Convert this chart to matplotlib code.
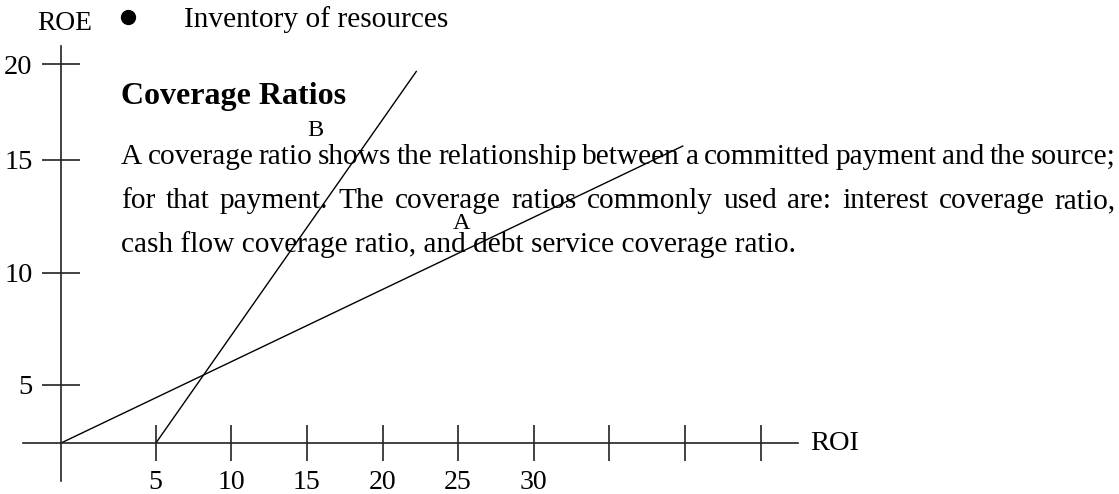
import matplotlib
matplotlib.use("Agg")
import matplotlib.pyplot as plt
from matplotlib.lines import Line2D

# ---- data ----
x_tick_values = [5, 10, 15, 20, 25, 30, 35, 40, 45]
x_tick_labels = ["5", "10", "15", "20", "25", "30", "", "", ""]
y_tick_labels = ["5", "10", "15", "20"]
line_a_roi = [-1.3, 39.9]
line_a_roe = [0.0, 15.7]
line_b_roi = [5.0, 22.26]
line_b_roe = [0.0, 19.65]
line_names = ["A", "B"]

heading = "Coverage Ratios"
bullet_text = "Inventory of resources"
body_lines = [
    "A coverage ratio shows the relationship between a committed payment and the source;",
    "for that payment. The coverage ratios commonly used are: interest coverage ratio,",
    "cash flow coverage ratio, and debt service coverage ratio.",
]

# ---- layout (pixel based) ----
W, H = 1119, 494
fig = plt.figure(figsize=(W / 100, H / 100), dpi=100)
ax = fig.add_axes([0, 0, 1, 1])
ax.set_xlim(-5.298, 68.71)
ax.set_ylim(-2.675, 23.39)
ax.patch.set_alpha(0)

SERIF = ["Liberation Serif", "DejaVu Serif"]
AXC = "#222222"

def px(x, y):
    return x / W, 1 - y / H

# spines as drawn axes
for s in ["top", "right"]:
    ax.spines[s].set_visible(False)
ax.spines["left"].set_position(("data", -1.296))
ax.spines["bottom"].set_position(("data", 0))
ax.spines["left"].set_bounds(-1.99, 20.97)
ax.spines["bottom"].set_bounds(-3.80, 47.46)
for s in ["left", "bottom"]:
    ax.spines[s].set_color(AXC)
    ax.spines[s].set_linewidth(1.2)

y_tick_pos = [3.08, 9.0, 14.97, 20.0]
ax.set_xticks(x_tick_values, x_tick_labels)
ax.set_yticks(y_tick_pos, y_tick_labels)
ax.tick_params(axis="x", direction="inout", length=26.6, width=1.2, color=AXC,
               pad=6.0, labelsize=20)
ax.tick_params(axis="y", direction="inout", length=27.4, width=1.2, color=AXC,
               pad=6.5, labelsize=20.5)
for lab in ax.get_xticklabels() + ax.get_yticklabels():
    lab.set_fontfamily(SERIF)
    lab.set_color("black")

# lines A and B
ax.plot(line_a_roi, line_a_roe, color="black", lw=1.0, solid_capstyle="butt")
ax.plot(line_b_roi, line_b_roe, color="black", lw=1.0, solid_capstyle="butt")

# axis titles
ax.text(48.27, 0, "ROI", ha="left", va="center", fontsize=20.5, family=SERIF)
fig.text(*px(65, 23), "ROE", ha="center", va="center", fontsize=19.8, family=SERIF)

# line labels
fig.text(*px(461.7, 223.3), line_names[0], ha="center", va="center", fontsize=17.5, family=SERIF)
fig.text(*px(315, 130), line_names[1], ha="center", va="center", fontsize=17.5, family=SERIF)

# bullet + text
fig.add_artist(Line2D([127.7 / W], [1 - 16.7 / H], marker="o", markersize=10,
                      color="black", transform=fig.transFigure))
fig.text(*px(184, 27.3), bullet_text, ha="left", va="baseline", fontsize=21.2, family=SERIF)

# heading
fig.text(*px(120.7, 104.3), heading, ha="left", va="baseline", fontsize=23,
         fontweight="bold", family=SERIF)

# body text, first two lines justified
renderer = fig.canvas.get_renderer()
left, right = 120.7, 1116.0
baselines = [164.3, 208.3, 251.7]
fs = 21.2
for i, (line, yb) in enumerate(zip(body_lines, baselines)):
    if i < 2:
        words = line.split(" ")
        widths = []
        for w in words:
            t = fig.text(0, 0, w, fontsize=fs, family=SERIF)
            widths.append(t.get_window_extent(renderer).width)
            t.remove()
        gap = (right - left - sum(widths)) / (len(words) - 1)
        x = left
        for w, wd in zip(words, widths):
            fig.text(*px(x, yb), w, ha="left", va="baseline", fontsize=fs, family=SERIF)
            x += wd + gap
    else:
        fig.text(*px(left, yb), line, ha="left", va="baseline", fontsize=fs, family=SERIF)

fig.savefig("out.png", dpi=100)
